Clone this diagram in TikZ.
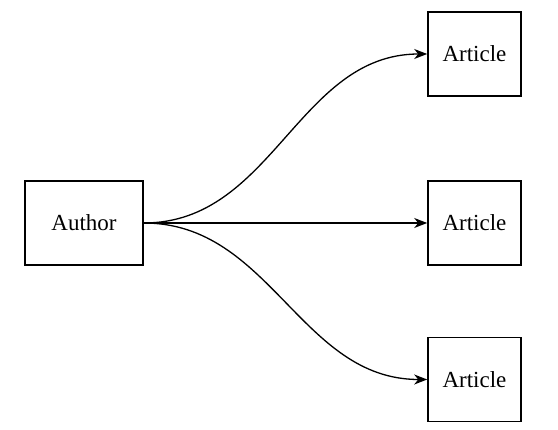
\documentclass[tikz,border=0pt]{standalone}
\usepackage{fontspec}
\setmainfont{Liberation Serif}
\usepackage{tikz}
\usetikzlibrary{arrows.meta}

\begin{document}
\begin{tikzpicture}[x=1pt,y=-1pt,->,>={Stealth[length=13pt,width=10pt,inset=4pt]},
  auth node/.style={rectangle,draw,line width=1.6pt,minimum width=118pt,minimum height=84pt,font=\fontsize{23}{28}\selectfont},
  art node/.style={rectangle,draw,line width=1.6pt,minimum width=93pt,minimum height=84pt,font=\fontsize{23}{28}\selectfont}]
  \useasboundingbox (0,0) rectangle (558,430);
  \node[auth node] (author) at (84,223) {Author};
  \node[art node] (art1) at (474.5,54) {Article};
  \node[art node] (art2) at (474.5,223) {Article};
  \node[art node] (art3) at (474.5,379.5) {Article};

  \path[line width=1.3pt,every edge/.style={draw,out=0,in=180}]
    (author.east) edge (art1.west)
    (author.east) edge (art2.west)
    (author.east) edge (art3.west);
\end{tikzpicture}
\end{document}
